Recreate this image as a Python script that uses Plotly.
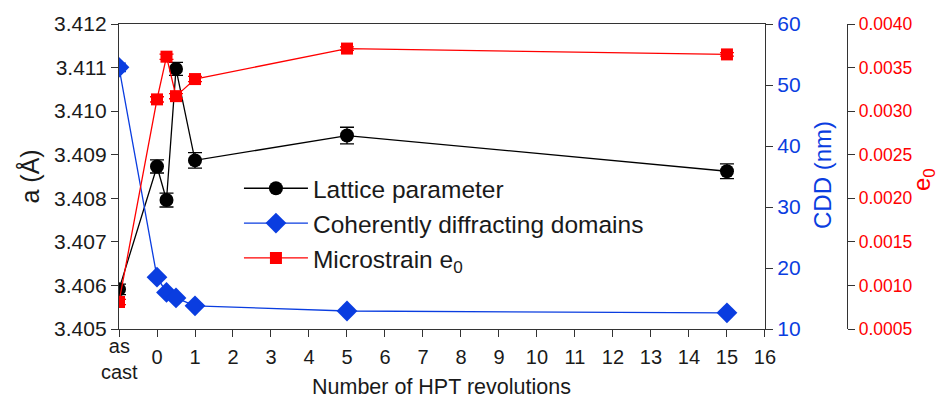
import plotly.graph_objects as go

# HPT revolutions; the as-cast state is plotted at -1
revolutions = [-1, 0, 0.25, 0.5, 1, 5, 15]
x_tick_vals = list(range(-1, 17))
x_tick_text = [""] + [str(v) for v in range(0, 17)]

lattice_a = [3.40591, 3.40873, 3.40796, 3.41097, 3.40887, 3.40944, 3.40862]
lattice_err = [0.00012, 0.00015, 0.00016, 0.00015, 0.00018, 0.00019, 0.00017]

cdd_nm = [52.9, 18.5, 16.0, 15.1, 13.8, 12.95, 12.65]
cdd_err = [0.7, 0.3, 0.3, 0.3, 0.3, 0.3, 0.3]

microstrain = [0.00081, 0.003135, 0.003625, 0.003172, 0.003368, 0.003718, 0.003651]
microstrain_err = [0.00003, 0.00003, 0.00003, 0.00003, 0.00003, 0.00002, 0.00002]

BLACK = "#000000"
BLUE = "#0a3de0"
RED = "#ff0000"
TEXT = "#1a1a1a"
FONT = "Liberation Sans, Arial, sans-serif"
AXIS_LINE = "#333333"

fig = go.Figure()

fig.add_trace(go.Scatter(
    x=revolutions, y=lattice_a, name="Lattice parameter", mode="lines+markers",
    line=dict(color=BLACK, width=1.3),
    marker=dict(symbol="circle", size=14, color=BLACK),
    error_y=dict(type="data", array=lattice_err, color=BLACK, thickness=1.3, width=7),
    yaxis="y",
))
fig.add_trace(go.Scatter(
    x=revolutions, y=cdd_nm, name="Coherently diffracting domains", mode="lines+markers",
    line=dict(color=BLUE, width=1.3),
    marker=dict(symbol="diamond", size=16, color=BLUE),
    error_y=dict(type="data", array=cdd_err, color=BLUE, thickness=1.3, width=7),
    yaxis="y2",
))
fig.add_trace(go.Scatter(
    x=revolutions, y=microstrain, name="Microstrain e<sub>0</sub>", mode="lines+markers",
    line=dict(color=RED, width=1.3),
    marker=dict(symbol="square", size=12, color=RED),
    error_y=dict(type="data", array=microstrain_err, color=RED, thickness=1.3, width=7),
    yaxis="y3",
))

tick_common = dict(ticks="outside", ticklen=7, tickwidth=1.3, tickcolor=AXIS_LINE,
                   showline=True, linecolor=AXIS_LINE, linewidth=1.3,
                   showgrid=False, zeroline=False)

fig.update_layout(
    width=943, height=401,
    margin=dict(l=119, r=60, t=19, b=72),
    paper_bgcolor="white", plot_bgcolor="white",
    font=dict(family=FONT, size=20, color=TEXT),
    showlegend=True,
    legend=dict(x=0.157, y=0.535, xanchor="left", yanchor="top",
                bgcolor="rgba(0,0,0,0)", font=dict(size=24.5, color=TEXT),
                itemwidth=64, tracegroupgap=0),
    xaxis=dict(domain=[0, 0.8455], range=[-1, 16], tickvals=x_tick_vals,
               ticktext=x_tick_text, mirror=True, ticklabelstandoff=3,
               tickfont=dict(size=20, color=TEXT), **tick_common),
    yaxis=dict(range=[3.405, 3.412], dtick=0.001, tickformat=".3f",
               tickfont=dict(size=21, color=TEXT), **tick_common),
    yaxis2=dict(range=[10, 60], dtick=10, overlaying="y", side="right", anchor="x",
                tickfont=dict(color=BLUE, size=21), **tick_common),
    yaxis3=dict(range=[0.0005, 0.0040], dtick=0.0005, tickformat=".4f",
                overlaying="y", side="right", anchor="free", position=0.953,
                tickfont=dict(color=RED, size=17.5), **tick_common),
    annotations=[
        dict(text="as<br>cast", x=-1, xref="x", y=-0.099, yref="paper",
             showarrow=False, xanchor="center", yanchor="middle",
             font=dict(size=20, color=TEXT)),
        dict(text="Number of HPT revolutions", x=0.5 * 0.8455, xref="paper",
             y=-0.19, yref="paper", showarrow=False, xanchor="center",
             yanchor="middle", font=dict(size=21.5, color=TEXT)),
        dict(text="a (Å)", x=-0.1165, xref="paper", y=0.5, yref="paper",
             textangle=-90, showarrow=False, xanchor="center", yanchor="middle",
             font=dict(size=25, color=TEXT)),
        dict(text="CDD (nm)", x=0.9215, xref="paper", y=0.505, yref="paper",
             textangle=-90, showarrow=False, xanchor="center", yanchor="middle",
             font=dict(size=24, color=BLUE)),
        dict(text="e<sub>0</sub>", x=1.053, xref="paper", y=0.49, yref="paper",
             textangle=-90, showarrow=False, xanchor="center", yanchor="middle",
             font=dict(size=24, color=RED)),
    ],
)

fig.write_html("out.html")
